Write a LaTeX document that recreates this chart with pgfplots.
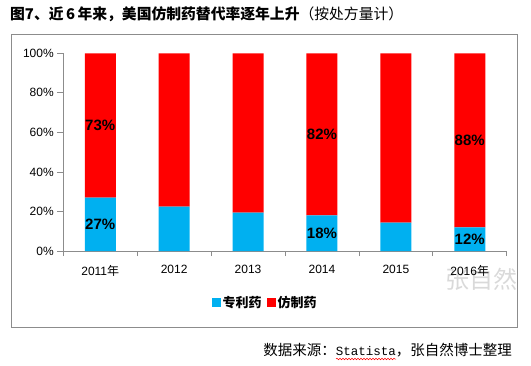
\documentclass[border=0pt]{standalone}
\usepackage{pgfplots}
\pgfplotsset{compat=1.18}
\usepackage{fontspec}
\setmainfont{Liberation Sans}
\setmonofont{Liberation Mono}
\newfontfamily\cjk{Noto Sans CJK SC}
\usetikzlibrary{decorations.pathmorphing}
\definecolor{pblue}{HTML}{00B0F0}
\definecolor{pred}{HTML}{FF0000}
\definecolor{framegray}{HTML}{8C8C8C}
\begin{document}
\begin{tikzpicture}[x=1pt,y=1pt]
\path (0,0) rectangle (531,365);
\draw[color=framegray, line width=0.9pt] (11,331) rectangle (517,38);
\node[anchor=west, inner sep=0pt, font=\cjk\fontsize{14.8}{17}\selectfont] at (10,350.5) {\textbf{图7、近\,6\,年来，美国仿制药替代率逐年上升}（按处方量计）};
\node[font=\cjk\fontsize{24}{26}\selectfont, text=black!15] at (481,86) {张自然};
\begin{axis}[
  at={(63.3pt,114pt)}, anchor=south west,
  scale only axis, width=443.4pt, height=197.7pt,
  xmin=-0.5, xmax=5.5, ymin=0, ymax=100,
  axis x line*=bottom, axis y line*=left,
  axis line style={framegray, line width=0.8pt, -},
  ybar stacked, bar width=31pt,
  xtick={0,1,2,3,4,5},
  xticklabels={{2011{\cjk 年}},2012,2013,2014,2015,{2016{\cjk 年}}},
  minor xtick={-0.5,0.5,1.5,2.5,3.5,4.5,5.5},
  major x tick style={draw=none},
  minor x tick style={framegray, line width=0.8pt},
  minor tick length=5pt,
  major tick length=6pt,
  tick align=outside,
  ytick={0,20,40,60,80,100},
  y tick style={framegray, line width=0.8pt},
  yticklabel={\pgfmathprintnumber{\tick}\%},
  /pgf/number format/assume math mode=true,
  ticklabel style={font=\fontsize{12}{14}\selectfont, text=black},
  xticklabel style={yshift=-5pt},
  legend style={at={(0.455,-0.263)}, anchor=center, draw=none, legend columns=2,
    font=\cjk\bfseries\fontsize{13}{15}\selectfont, inner sep=0pt,
    /tikz/every even column/.append style={column sep=3pt}},
  legend image code/.code={\fill[#1, draw=none] (0pt,-4.5pt) rectangle (9pt,4.5pt);},
  clip=false,
]
\addplot[fill=pblue, draw=none] coordinates {(0,27) (1,22.4) (2,19.4) (3,18) (4,14.3) (5,12)};
\addlegendentry{专利药}
\addplot[fill=pred, draw=none] coordinates {(0,73) (1,77.6) (2,80.6) (3,82) (4,85.7) (5,88)};
\addlegendentry{仿制药}
\coordinate (a1) at (axis cs:0,13.5);
\coordinate (a2) at (axis cs:0,63.5);
\coordinate (b1) at (axis cs:3,9);
\coordinate (b2) at (axis cs:3,59);
\coordinate (c1) at (axis cs:5,6);
\coordinate (c2) at (axis cs:5,56);
\end{axis}
\begin{scope}[every node/.style={font=\bfseries\fontsize{15}{17}\selectfont, text=black, inner sep=0pt}]
\node at (a1) {27\%};
\node at (a2) {73\%};
\node at (b1) {18\%};
\node at (b2) {82\%};
\node at (c1) {12\%};
\node at (c2) {88\%};
\end{scope}
\node[anchor=east, inner sep=0pt, font=\fontsize{14.5}{16}\selectfont] at (512,15) {{\cjk 数据来源：}{\ttfamily\fontsize{12.5}{14}\selectfont Statista}{\cjk ，张自然博士整理}};
\draw[red, line width=0.5pt, decorate, decoration={snake, amplitude=0.8pt, segment length=3pt}] (336,6) -- (396,6);
\end{tikzpicture}
\end{document}
